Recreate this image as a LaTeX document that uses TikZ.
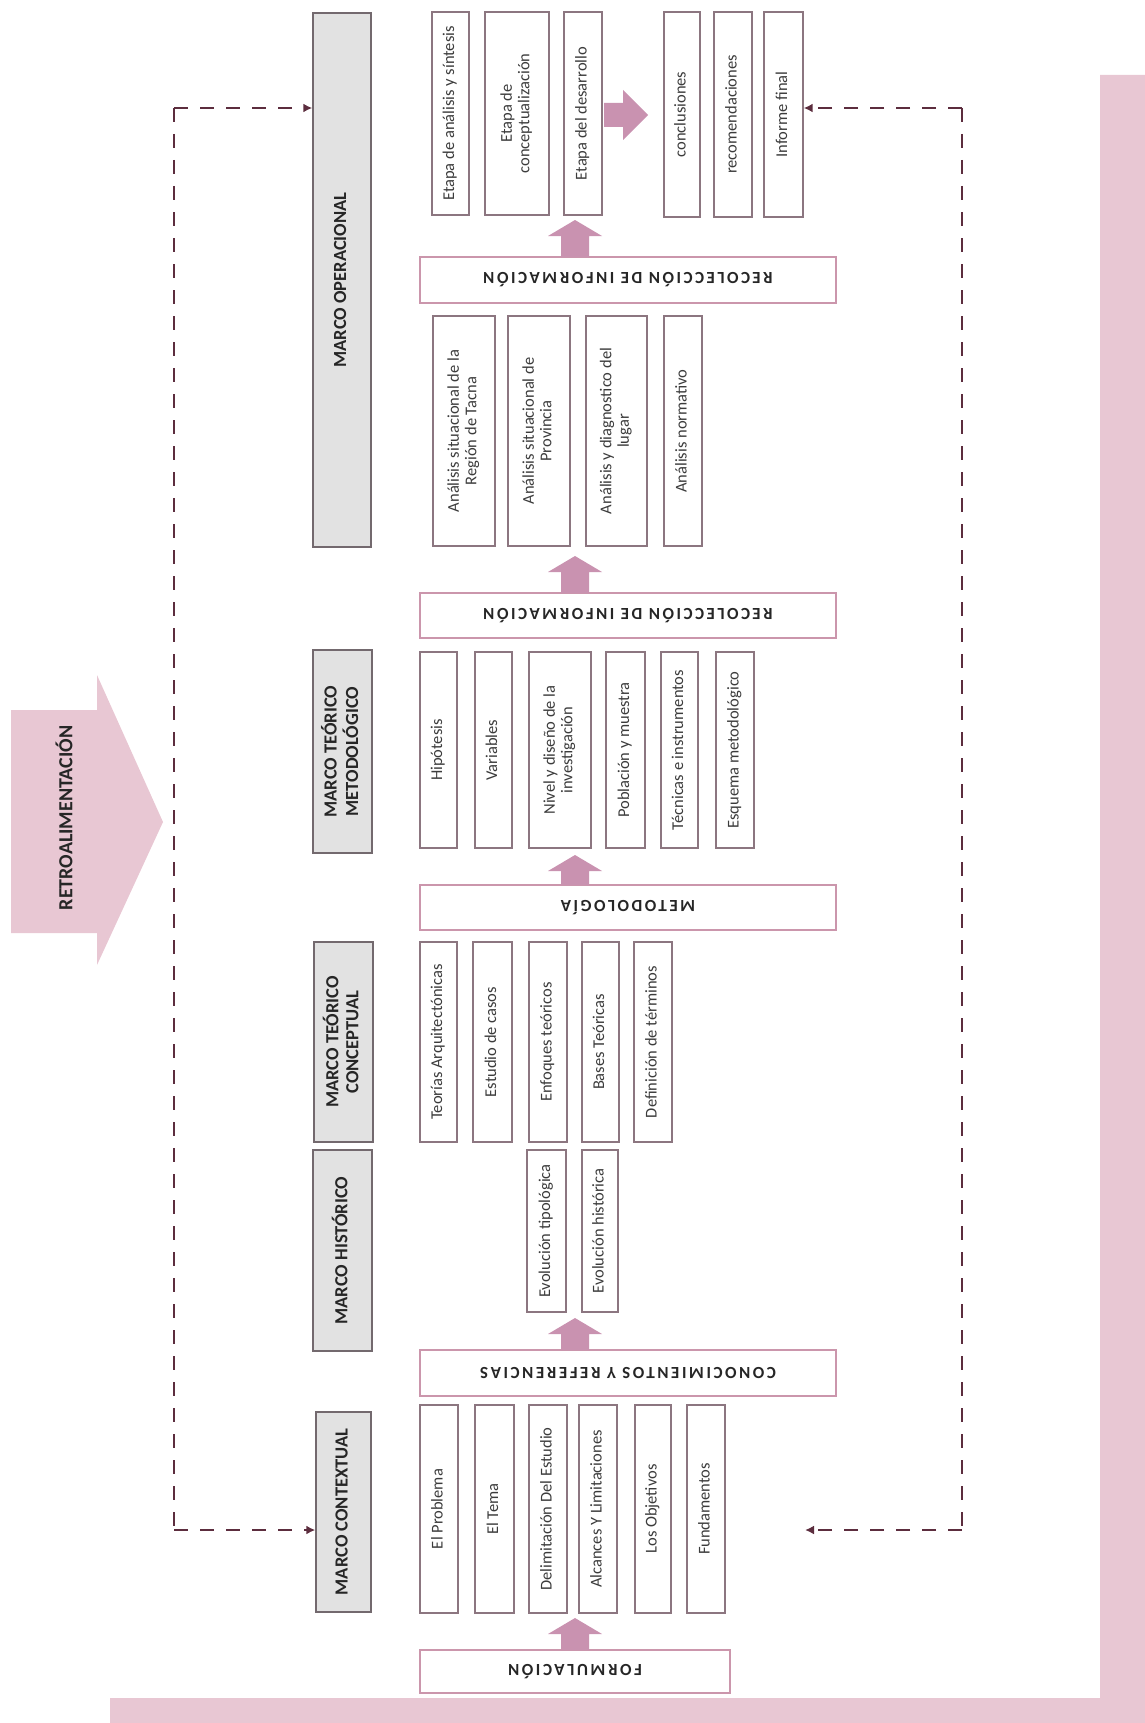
\documentclass[tikz,border=0pt]{standalone}
\usepackage{fontspec}
\setmainfont{Carlito}
\usepackage{graphicx}
\usetikzlibrary{arrows.meta}
\definecolor{uppink}{RGB}{201,146,176}
\definecolor{barpink}{RGB}{232,199,211}
\definecolor{bxline}{RGB}{140,118,128}
\definecolor{wideline}{RGB}{203,150,172}
\definecolor{grayfill}{RGB}{226,226,226}
\definecolor{grayline}{RGB}{115,105,110}
\definecolor{dashcol}{RGB}{92,45,62}
\definecolor{txt}{RGB}{60,60,60}
\newcommand{\vt}[1]{\rotatebox{90}{\begin{tabular}{@{}c@{}}#1\end{tabular}}}
\newcommand{\ut}[1]{\rotatebox{180}{#1}}
\newcommand{\bx}[7][]{%
  \pgfmathsetmacro\bxw{#4-#3}\pgfmathsetmacro\bxh{#6-#5}%
  \pgfmathsetmacro\bxcx{(#3+#4)/2}\pgfmathsetmacro\bxcy{(#5+#6)/2}%
  \node[#1, minimum width=\bxw pt, minimum height=\bxh pt] (#2) at (\bxcx,\bxcy) {#7};}
\newcommand{\uparr}[3]{%
  \fill[uppink] ({#1-14},{#3}) -- ({#1-14},{#2+16}) -- ({#1-27},{#2+16}) -- ({#1},{#2})
    -- ({#1+27},{#2+16}) -- ({#1+14},{#2+16}) -- ({#1+14},{#3}) -- cycle;}
\begin{document}
\begin{tikzpicture}[x=1pt,y=-1pt,
  sbox/.style={draw=bxline, line width=1.4pt, fill=white, inner sep=0pt, text=txt,
     font=\fontsize{16.5}{17.5}\selectfont},
  gbox/.style={draw=grayline, line width=1.4pt, fill=grayfill, inner sep=0pt, text=black!85,
     font=\fontsize{18.5}{20}\selectfont\bfseries},
  wbox/.style={draw=wideline, line width=1.4pt, fill=white, inner sep=0pt, text=black!85,
     font=\fontsize{17}{18}\selectfont\bfseries\addfontfeature{LetterSpace=15}},
  fb/.style={draw=dashcol, line width=2.8pt, dash pattern=on 14pt off 12pt},
  fbtip/.style={-{Latex[length=9pt,width=9pt]}}
]
\useasboundingbox (0,0) rectangle (1145,1723);

% pink L band
\fill[barpink] (1100,75) -- (1145,75) -- (1145,1723) -- (110,1723) -- (110,1698) -- (1100,1698) -- cycle;

% retroalimentacion arrow
\fill[barpink] (11,710) -- (97,710) -- (97,675) -- (163,822) -- (97,965) -- (97,933) -- (11,933) -- cycle;
\node[font=\fontsize{20}{22}\selectfont\bfseries, text=black!85] (retro) at (64,818) {\rotatebox{90}{RETROALIMENTACIÓN}};

% gray frames
\bx[gbox]{op}{313}{371}{13}{547}{\vt{MARCO OPERACIONAL}}
\bx[gbox]{met}{313}{372}{650}{853}{\vt{MARCO TEÓRICO\\METODOLÓGICO}}
\bx[gbox]{con}{314}{373}{942}{1142}{\vt{MARCO TEÓRICO\\CONCEPTUAL}}
\bx[gbox]{his}{313}{372}{1150}{1351}{\vt{MARCO HISTÓRICO}}
\bx[gbox]{ctx}{316}{371}{1412}{1612}{\vt{MARCO CONTEXTUAL}}

% wide boxes
\bx[wbox]{rec1}{420}{836}{257}{303}{\ut{RECOLECCIÓN DE INFORMACIÓN}}
\bx[wbox]{rec2}{420}{836}{593}{638}{\ut{RECOLECCIÓN DE INFORMACIÓN}}
\bx[wbox]{meto}{420}{836}{885}{930}{\ut{METODOLOGÍA}}
\bx[wbox]{cono}{420}{836}{1350}{1396}{\ut{CONOCIMIENTOS Y REFERENCIAS}}
\bx[wbox]{form}{420}{730}{1650}{1693}{\ut{FORMULACIÓN}}

% operational row
\bx[sbox]{e1}{432}{469}{12}{215}{\vt{Etapa de análisis y síntesis}}
\bx[sbox]{e2}{485}{549}{12}{215}{\vt{Etapa de\\conceptualización}}
\bx[sbox]{e3}{564}{602}{12}{215}{\vt{Etapa del desarrollo}}
\bx[sbox]{r1}{664}{700}{12}{217}{\vt{conclusiones}}
\bx[sbox]{r2}{714}{752}{12}{217}{\vt{recomendaciones}}
\bx[sbox]{r3}{764}{803}{12}{217}{\vt{Informe final}}

% analisis row
\bx[sbox]{an1}{433}{495}{316}{546}{\vt{Análisis situacional de la\\Región de Tacna}}
\bx[sbox]{an2}{508}{570}{316}{546}{\vt{Análisis situacional de\\Provincia}}
\bx[sbox]{an3}{586}{647}{316}{546}{\vt{Análisis y diagnostico del\\lugar}}
\bx[sbox]{an4}{664}{702}{316}{546}{\vt{Análisis normativo}}

% metodologico row
\bx[sbox]{m1}{420}{457}{652}{848}{\vt{Hipótesis}}
\bx[sbox]{m2}{475}{512}{652}{848}{\vt{Variables}}
\bx[sbox]{m3}{529}{591}{652}{848}{\vt{Nivel y diseño de la\\investigación}}
\bx[sbox]{m4}{606}{645}{652}{848}{\vt{Población y muestra}}
\bx[sbox]{m5}{661}{698}{652}{848}{\vt{Técnicas e instrumentos}}
\bx[sbox]{m6}{716}{754}{652}{848}{\vt{Esquema metodológico}}

% conceptual row
\bx[sbox]{c1}{420}{457}{942}{1142}{\vt{Teorías Arquitectónicas}}
\bx[sbox]{c2}{473}{512}{942}{1142}{\vt{Estudio de casos}}
\bx[sbox]{c3}{529}{567}{942}{1142}{\vt{Enfoques teóricos}}
\bx[sbox]{c4}{582}{619}{942}{1142}{\vt{Bases Teóricas}}
\bx[sbox]{c5}{634}{672}{942}{1142}{\vt{Definición de términos}}

% historico row
\bx[sbox]{h1}{527}{566}{1150}{1312}{\vt{Evolución tipológica}}
\bx[sbox]{h2}{582}{618}{1150}{1312}{\vt{Evolución histórica}}

% contextual row
\bx[sbox]{k1}{420}{458}{1405}{1613}{\vt{El Problema}}
\bx[sbox]{k2}{475}{514}{1405}{1613}{\vt{El Tema}}
\bx[sbox]{k3}{529}{567}{1405}{1613}{\vt{Delimitación Del Estudio}}
\bx[sbox]{k4}{579}{617}{1405}{1613}{\vt{Alcances Y Limitaciones}}
\bx[sbox]{k5}{635}{671}{1405}{1613}{\vt{Los Objetivos}}
\bx[sbox]{k6}{687}{725}{1405}{1613}{\vt{Fundamentos}}

% block arrows
\uparr{575}{220}{257}
\uparr{575}{556}{593}
\uparr{575}{855}{885}
\uparr{575}{1318}{1350}
\uparr{575}{1618}{1650}
\fill[uppink] (604,103) -- (623,103) -- (623,90) -- (648,115) -- (623,140) -- (623,127) -- (604,127) -- cycle;

% feedback dashed loops
\coordinate (lt) at (174,108);
\coordinate (lb) at (174,1530);
\coordinate (rt) at (962,108);
\coordinate (rb) at (962,1530);
\coordinate (rbend) at (805,1530);
\draw[fb] (lt) -- (lb);
\draw[fb, fbtip] (lt) -- (op.west |- lt);
\draw[fb, fbtip] (lb) -- (ctx.west |- lb);
\draw[fb] (rt) -- (rb);
\draw[fb, fbtip] (rt) -- (r3.east |- rt);
\draw[fb, fbtip] (rb) -- (rbend);
\end{tikzpicture}
\end{document}
